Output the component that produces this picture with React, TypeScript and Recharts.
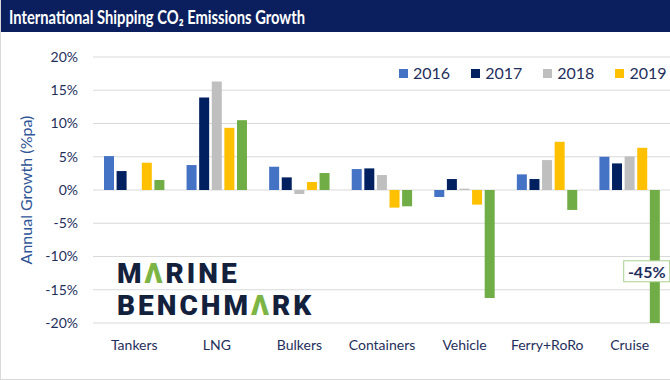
import React from "react";
import { BarChart, Bar, XAxis, YAxis, CartesianGrid, Legend, ReferenceDot } from "recharts";

const categories = ["Tankers", "LNG", "Bulkers", "Containers", "Vehicle", "Ferry+RoRo", "Cruise"];
const g2016 = [5.1, 3.75, 3.5, 3.15, -1.05, 2.35, 5.0];
const g2017 = [2.85, 13.9, 1.9, 3.25, 1.65, 1.65, 4.0];
const g2018 = [null, 16.3, -0.6, 2.25, 0.2, 4.5, 5.05];
const g2019 = [4.1, 9.35, 1.2, -2.65, -2.2, 7.25, 6.35];
const g2020 = [1.5, 10.5, 2.55, -2.45, -16.25, -3.0, -45];
const yTicks = [-20, -15, -10, -5, 0, 5, 10, 15, 20];

const data = categories.map((name, i) => ({
  name,
  "2016": g2016[i],
  "2017": g2017[i],
  "2018": g2018[i],
  "2019": g2019[i],
  "2020": g2020[i],
}));

const series = [
  { key: "2016", color: "#4472C4" },
  { key: "2017", color: "#002060" },
  { key: "2018", color: "#BFBFBF" },
  { key: "2019", color: "#FFC000" },
  { key: "2020", color: "#70AD47", hidden: true },
];

const FONT = "Lato, 'Open Sans', sans-serif";
const TEXT = "#1F2F5C";
const NAVY = "#0B1F5E";

const renderLegend = (props: any) => {
  const items = (props.payload || []).filter((p: any) => p.type !== "none");
  return (
    <div style={{ display: "flex", fontFamily: FONT, fontSize: 16, color: TEXT, lineHeight: "20px" }}>
      {items.map((p: any) => (
        <div key={p.value} style={{ display: "flex", alignItems: "center", marginRight: 21 }}>
          <span style={{ width: 9, height: 9, background: p.color, marginRight: 5, display: "inline-block" }} />
          <span>{p.value}</span>
        </div>
      ))}
    </div>
  );
};

const callout = (props: any) => {
  const cx = props.cx + 17;
  const cy = props.cy;
  return (
    <g>
      <rect x={cx - 23} y={cy - 11} width={46} height={21} fill="#fff" stroke="#A9D18E" strokeWidth={1} />
      <text x={cx} y={cy + 6} textAnchor="middle" fontFamily={FONT} fontWeight={700} fontSize={16} fill={TEXT}>
        {`${g2020[6]}%`}
      </text>
    </g>
  );
};

export default function App() {
  return (
    <div
      style={{
        position: "absolute",
        left: 0,
        top: 0,
        width: 670,
        height: 380,
        background: "#fff",
        boxSizing: "border-box",
        borderLeft: "1px solid #D9D9D9",
        borderBottom: "1px solid #D9D9D9",
        overflow: "hidden",
      }}
    >
      <BarChart
        width={670}
        height={380}
        data={data}
        margin={{ top: 57, right: 0, bottom: 27, left: 0 }}
        barSize={10}
        barGap={2.6}
      >
        <CartesianGrid vertical={false} stroke="#D9D9D9" />
        <XAxis
          dataKey="name"
          axisLine={false}
          tickLine={false}
          tickSize={0}
          tickMargin={17}
          height={30}
          interval={0}
          tick={{ fontFamily: FONT, fontSize: 14, fill: TEXT }}
        />
        <YAxis
          width={92}
          domain={[-20, 20]}
          ticks={yTicks}
          allowDataOverflow
          axisLine={false}
          tickLine={false}
          tickSize={0}
          tickMargin={15}
          tickFormatter={(v: number) => `${v}%`}
          tick={{ fontFamily: FONT, fontSize: 14, fill: TEXT }}
          label={{
            value: "Annual Growth (%pa)",
            angle: -90,
            position: "insideLeft",
            offset: 25,
            style: { textAnchor: "middle", fontFamily: FONT, fontSize: 16, fill: "#2F5597" },
          }}
        />
        <Legend
          content={renderLegend}
          layout="vertical"
          align="center"
          verticalAlign="middle"
          wrapperStyle={{ top: 63, left: 398, width: "auto" }}
        />
        {series.map((s) => (
          <Bar
            key={s.key}
            dataKey={s.key}
            fill={s.color}
            legendType={s.hidden ? "none" : "square"}
            isAnimationActive={false}
          />
        ))}
        <ReferenceDot x="Cruise" y={-12.3} r={0} shape={callout} />
      </BarChart>

      <svg width={670} height={32} style={{ position: "absolute", left: 0, top: 0 }}>
        <rect x={0} y={0} width={670} height={32} fill={NAVY} />
        <text
          x={8}
          y={24}
          fontFamily={FONT}
          fontWeight={700}
          fontSize={18}
          fill="#fff"
          textLength={296}
          lengthAdjust="spacingAndGlyphs"
        >
          International Shipping CO₂ Emissions Growth
        </text>
      </svg>

      <svg width={670} height={380} style={{ position: "absolute", left: 0, top: 0, pointerEvents: "none" }}>
        <text x={116} y={283} fontFamily="Roboto, sans-serif" fontWeight={900} fontSize={28} letterSpacing={3} fill="#14213D">
          M<tspan fill="#7DB544">Λ</tspan>RINE
        </text>
        <text x={116} y={315} fontFamily="Roboto, sans-serif" fontWeight={900} fontSize={28} letterSpacing={3} fill="#14213D">
          BENCHM<tspan fill="#7DB544">Λ</tspan>RK
        </text>
      </svg>
    </div>
  );
}
